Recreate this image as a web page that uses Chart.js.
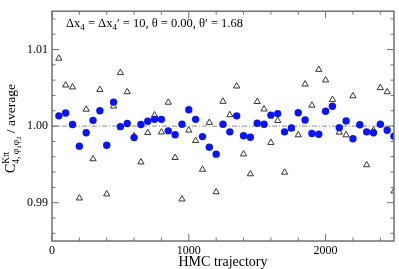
<!DOCTYPE html>
<html>
<head>
<meta charset="utf-8">
<script src="https://cdn.jsdelivr.net/npm/chart.js@4/dist/chart.umd.min.js"></script>
<style>
  html, body { margin: 0; padding: 0; background: #fff; }
  #wrap { width: 399px; height: 269px; }
</style>
</head>
<body>
<div id="wrap"><canvas id="chart"></canvas></div>
<script>
// HMC trajectory numbers
const trajectories = [50, 100, 150, 200, 250, 300, 350, 400, 450, 500,
  550, 600, 650, 700, 750, 800, 850, 900, 950, 1000,
  1050, 1100, 1150, 1200, 1250, 1300, 1350, 1400, 1450, 1500,
  1550, 1600, 1650, 1700, 1750, 1800, 1850, 1900, 1950, 2000,
  2050, 2100, 2150, 2200, 2250, 2300, 2350, 2400, 2450, 2500];

// filled circles
const ratioFilled = [1.00134, 1.00171, 1.00021, 0.99738, 0.99913, 1.00075, 1.00200, 0.99750, 1.00313, 0.99993,
  1.00034, 0.99850, 1.00021, 1.00063, 1.00088, 1.00088, 0.99938, 0.99888, 1.00025, 1.00213,
  1.00088, 0.99863, 0.99725, 0.99634, 1.00025, 0.99925, 1.00134, 0.99875, 0.99855, 1.00038,
  1.00025, 1.00143, 1.00163, 0.99925, 0.99975, 1.00175, 1.00080, 0.99905, 0.99893, 1.00193,
  1.00259, 0.99980, 1.00068, 0.99834, 1.00018, 0.99925, 0.99913, 1.00025, 0.99946, 0.99868];

// open triangles
const ratioOpen = [1.00884, 1.00534, 1.00509, 0.99059, 1.00218, 0.99571, 1.00475, 0.99113, 1.00259, 1.00696,
  1.00446, 0.99871, 0.99530, 0.99913, 1.00143, 0.99921, 1.00309, 0.99588, 0.99046, 0.99946,
  0.99809, 0.99434, 1.00046, 0.99140, 1.00321, 1.00146, 1.00521, 0.99634, 0.99375, 1.00318,
  1.00221, 0.99784, 1.00071, 0.99396, 0.99970, 0.99884, 1.00546, 1.00271, 1.00738, 1.00600,
  1.00346, 0.99918, 0.99884, 1.00393, 1.00020, 0.99493, 0.99943, 1.00500, 1.00446, 0.99150];

const xMajor = [0, 1000, 2000];
const xMinor = [200, 400, 600, 800, 1200, 1400, 1600, 1800, 2200, 2400];
const yMajor = [0.99, 1.00, 1.01];
const yMinor = [0.986, 0.988, 0.992, 0.994, 0.996, 0.998, 1.002, 1.004, 1.006, 1.008, 1.012, 1.014];

const serif = '"Liberation Serif", "DejaVu Serif", serif';
const frameColor = '#707070';

// frame, inward ticks, reference line and texts
const decorations = {
  id: 'decorations',
  beforeDatasetsDraw(chart) {
    const { ctx, chartArea: a, scales: { y } } = chart;
    const y1 = y.getPixelForValue(1.0);
    ctx.save();
    ctx.strokeStyle = '#8a8a8a';
    ctx.lineWidth = 1;
    ctx.setLineDash([5, 2, 1, 2]);
    ctx.beginPath();
    ctx.moveTo(a.left, y1);
    ctx.lineTo(a.right, y1);
    ctx.stroke();
    ctx.restore();
  },
  afterDraw(chart) {
    const { ctx, chartArea: a, scales: { x, y } } = chart;
    ctx.save();
    ctx.strokeStyle = frameColor;
    ctx.lineWidth = 1.5;
    ctx.strokeRect(a.left, a.top, a.right - a.left, a.bottom - a.top);

    ctx.lineWidth = 1;
    ctx.beginPath();
    const tickX = (vals, len) => vals.forEach(v => {
      const px = x.getPixelForValue(v);
      ctx.moveTo(px, a.bottom); ctx.lineTo(px, a.bottom - len);
      ctx.moveTo(px, a.top); ctx.lineTo(px, a.top + len);
    });
    const tickY = (vals, len) => vals.forEach(v => {
      const py = y.getPixelForValue(v);
      ctx.moveTo(a.left, py); ctx.lineTo(a.left + len, py);
      ctx.moveTo(a.right, py); ctx.lineTo(a.right - len, py);
    });
    tickX(xMajor, 7); tickX(xMinor, 3.5);
    tickY(yMajor, 7); tickY(yMinor, 3.5);
    ctx.stroke();

    ctx.fillStyle = '#000';
    ctx.textBaseline = 'alphabetic';

    // x axis title
    ctx.font = '14px ' + serif;
    ctx.textAlign = 'center';
    ctx.fillText('HMC trajectory', (a.left + a.right) / 2, 266);
    ctx.textAlign = 'left';

    // annotation in the top left
    const big = '12.5px ' + serif, small = '9px ' + serif;
    let cx = 66;
    const put = (t, f, dy) => { ctx.font = f; ctx.fillText(t, cx, 27 + dy); cx += ctx.measureText(t).width; };
    put('\u0394x', big, 0); put('4', small, 3);
    put(' = \u0394x', big, 0); put('4', small, 3);
    put('\u2032 = 10, \u03b8 = 0.00, \u03b8\u2032 = 1.68', big, 0);

    // y axis title, rotated
    ctx.translate(15, 173);
    ctx.rotate(-Math.PI / 2);
    cx = 0;
    const putR = (t, f, dy) => { ctx.font = f; ctx.fillText(t, cx, dy); const w = ctx.measureText(t).width; cx += w; return w; };
    putR('C', '14px ' + serif, 0);
    const start = cx;
    const w1 = putR('K\u03c0', '9.5px ' + serif, -6);
    cx = start;
    putR('4, \u03c6', '9.5px ' + serif, 4);
    putR('1', '7px ' + serif, 6);
    putR('\u03c6', '9.5px ' + serif, 4);
    putR('2', '7px ' + serif, 6);
    cx = Math.max(cx, start + w1) + 3;
    putR('/ average', '13.5px ' + serif, 0);
    ctx.restore();
  }
};

new Chart(document.getElementById('chart'), {
  type: 'scatter',
  data: {
    datasets: [
      {
        data: trajectories.map((t, i) => ({ x: t, y: ratioFilled[i] })),
        pointStyle: 'circle',
        pointRadius: 3.7,
        backgroundColor: '#0a14f5',
        borderColor: '#0a14f5',
        borderWidth: 0,
        order: 1
      },
      {
        data: trajectories.map((t, i) => ({ x: t, y: ratioOpen[i] })),
        pointStyle: 'triangle',
        pointRadius: 3.6,
        backgroundColor: 'rgba(255,255,255,0)',
        borderColor: '#333',
        borderWidth: 1,
        order: 2
      }
    ]
  },
  options: {
    responsive: true,
    maintainAspectRatio: false,
    animation: false,
    layout: { padding: { top: 1, right: 4, left: 0, bottom: 0 } },
    plugins: { legend: { display: false }, tooltip: { enabled: false } },
    scales: {
      x: {
        type: 'linear',
        min: 0,
        max: 2500,
        grid: { display: false, drawTicks: false },
        border: { display: false },
        afterBuildTicks: s => { s.ticks = xMajor.map(v => ({ value: v })); },
        afterFit: s => { s.height = 28; },
        ticks: { color: '#000', font: { family: serif, size: 12 }, padding: 3, maxRotation: 0, callback: v => String(v) }
      },
      y: {
        min: 0.985,
        max: 1.015,
        grid: { display: false, drawTicks: false },
        border: { display: false },
        afterBuildTicks: s => { s.ticks = yMajor.map(v => ({ value: v })); },
        afterFit: s => { s.width = 52; },
        ticks: { color: '#000', font: { family: serif, size: 12 }, padding: 4, callback: v => v.toFixed(2) }
      }
    }
  },
  plugins: [decorations]
});
</script>
</body>
</html>
